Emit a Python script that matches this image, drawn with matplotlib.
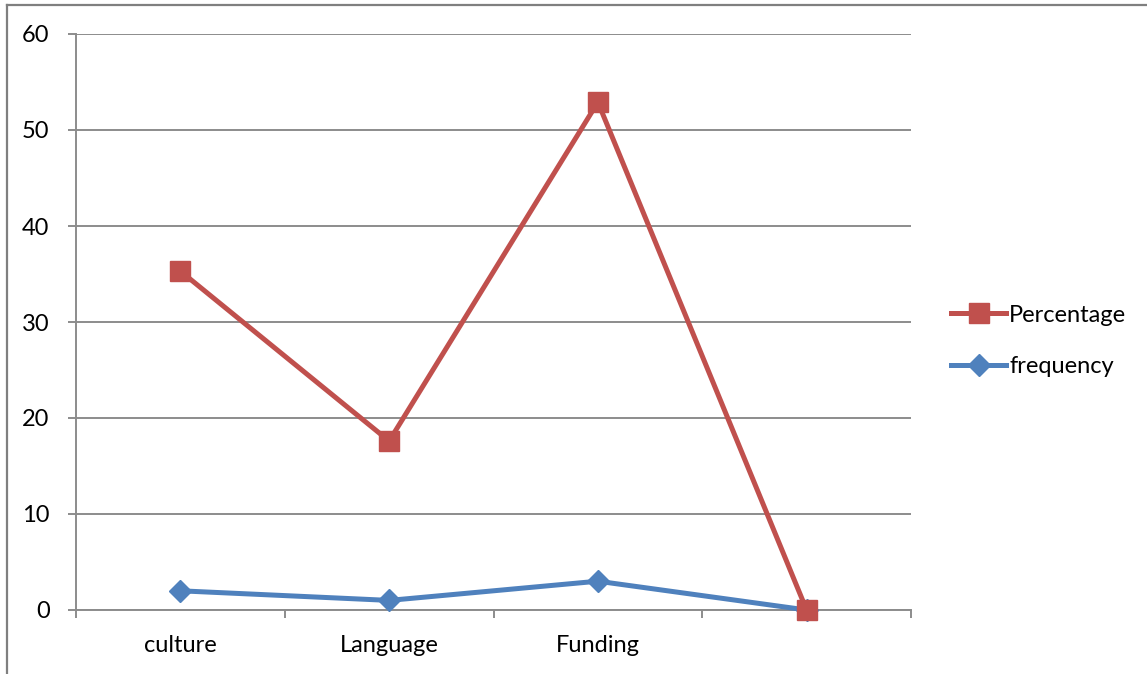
import matplotlib.pyplot as plt
from matplotlib.lines import Line2D

categories = ["culture", "Language", "Funding", ""]
percentage = [35.3, 17.6, 52.9, 0]
frequency = [2, 1, 3, 0]
y_ticks = [0, 10, 20, 30, 40, 50, 60]

RED = "#C0504D"
BLUE = "#4F81BD"
GRID = "#8C8C8C"

plt.rcParams["font.family"] = ["Lato", "DejaVu Sans"]
FS = 17

W, H = 1147, 674
fig = plt.figure(figsize=(W / 100, H / 100), dpi=100)
ax = fig.add_axes([76 / W, 1 - 610 / H, (911 - 76) / W, (610 - 34) / H])

x = list(range(len(categories)))
ax.plot(x, percentage, color=RED, lw=3.6, marker="s", ms=14, mec=RED,
        mfc=RED, label="Percentage", zorder=4, solid_joinstyle="round",
        clip_on=False)
ax.plot(x, frequency, color=BLUE, lw=3.6, marker="D", ms=11, mec=BLUE,
        mfc=BLUE, label="frequency", zorder=3, solid_joinstyle="round",
        clip_on=False)

ax.set_xlim(-0.5, len(categories) - 0.5)
ax.set_ylim(0, 60)
ax.set_yticks(y_ticks)
ax.set_yticklabels([str(v) for v in y_ticks], fontsize=FS)
ax.yaxis.grid(True, color=GRID, lw=1.4)
ax.set_axisbelow(True)

# category boundaries get tick marks, labels sit at the centres
ax.set_xticks([i - 0.5 for i in range(len(categories) + 1)])
ax.set_xticklabels([])
ax.set_xticks(x, minor=True)
ax.set_xticklabels(categories, minor=True, fontsize=FS)
ax.tick_params(axis="x", which="major", direction="out", length=6,
               width=1.4, color=GRID)
ax.tick_params(axis="x", which="minor", length=0, pad=18)
ax.tick_params(axis="y", direction="out", length=6, width=1.4,
               color=GRID, pad=13)

for side in ("top", "right"):
    ax.spines[side].set_visible(False)
for side in ("left", "bottom"):
    ax.spines[side].set_color(GRID)
    ax.spines[side].set_linewidth(1.4)

# outer chart frame (top and left edges)
fig.add_artist(Line2D([7 / W, 1146 / W], [1 - 5 / H, 1 - 5 / H],
                      transform=fig.transFigure, color="#7F7F7F", lw=1.6))
fig.add_artist(Line2D([7 / W, 7 / W], [0, 1 - 5 / H],
                      transform=fig.transFigure, color="#7F7F7F", lw=1.6))

fig.legend(loc="center left", bbox_to_anchor=(942 / W, 1 - 341 / H),
           frameon=False, fontsize=FS, handlelength=2.3, handletextpad=0.15,
           labelspacing=1.3, borderaxespad=0)

fig.savefig("out.png", dpi=100)
